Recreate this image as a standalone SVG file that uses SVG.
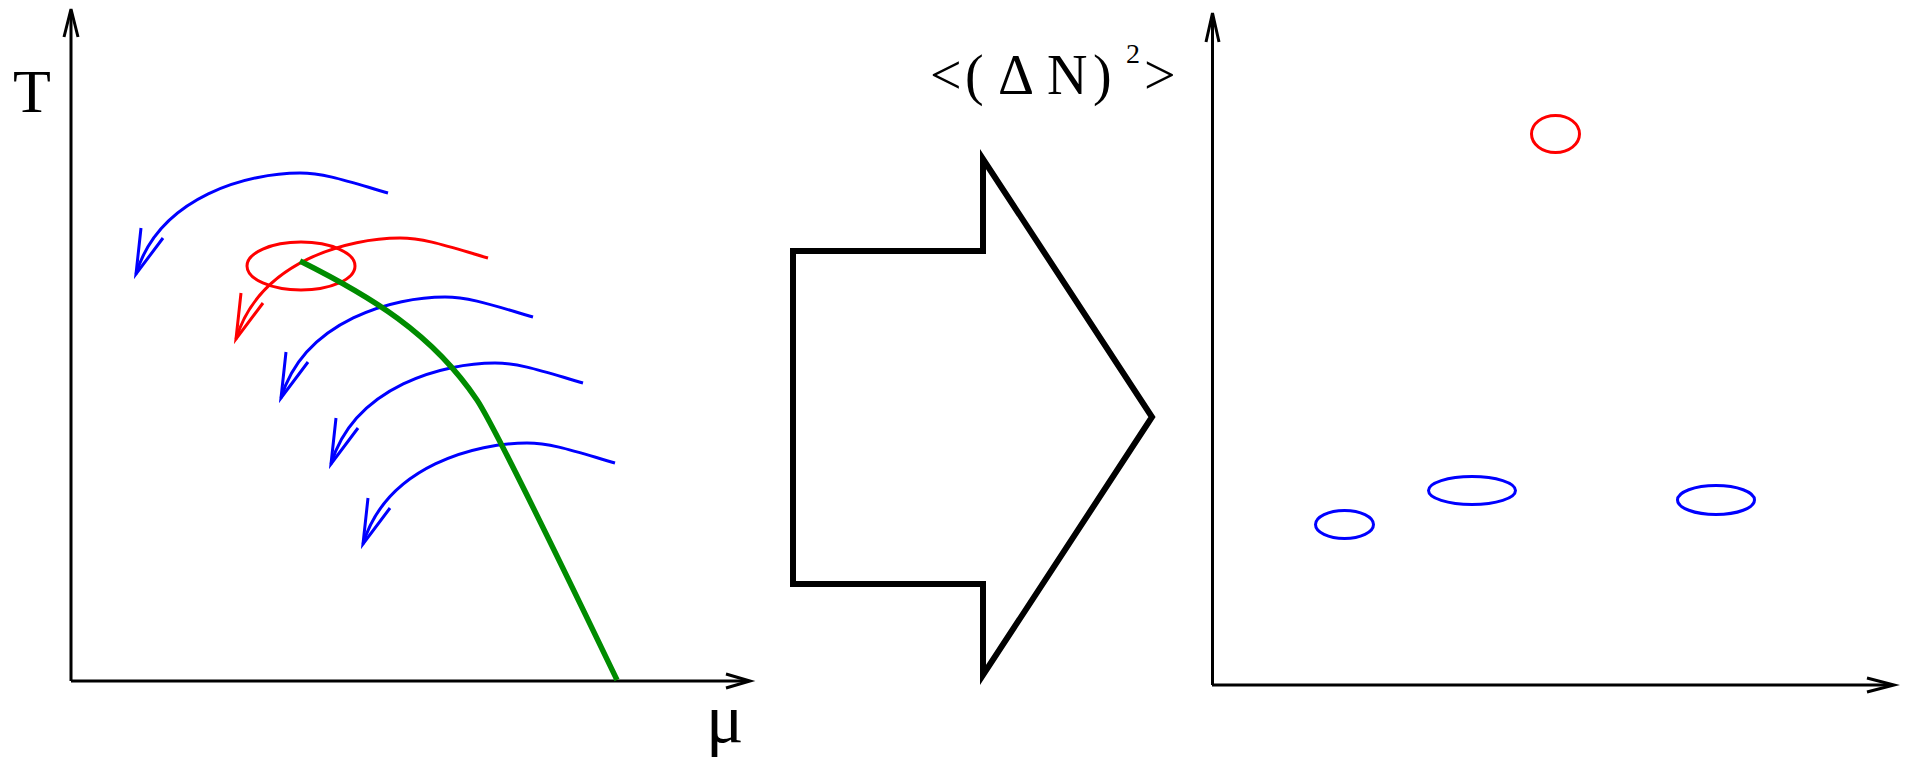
<svg xmlns="http://www.w3.org/2000/svg" xmlns:xlink="http://www.w3.org/1999/xlink" width="1905" height="757" viewBox="0 0 1905 757">
  <style>
    .axis { stroke: #000; stroke-width: 3; fill: none; }
    .head { stroke: #000; stroke-width: 3; fill: none; stroke-linejoin: miter; }
    .lbl { font-family: "Liberation Serif", "Times New Roman", serif; fill: #000; }
    .blue { stroke: #0000ff; }
    .red { stroke: #ff0000; }
    .flow { fill: none; stroke-width: 3; }
    .ell { fill: none; stroke-width: 3; }
  </style>
  <defs>
    <g id="arc" class="flow">
      <path d="M388,193 C350,182 325,173 300,173 C250,173 160,195 136,274"/>
      <polyline points="141,228 136,274 163,238"/>
    </g>
  </defs>
  <rect width="1905" height="757" fill="#fff"/>

  <g id="left-axes">
    <line class="axis" x1="71" y1="681" x2="71" y2="11"/>
    <polyline class="head" points="64,37 71,9 78,37"/>
    <line class="axis" x1="71" y1="681" x2="748" y2="681"/>
    <polyline class="head" points="726,674 750,681 726,688"/>
    <text class="lbl" x="13" y="112" font-size="62">T</text>
    <text class="lbl" x="706" y="742" font-size="70">μ</text>
  </g>

  <g id="flow-arrows">
    <use xlink:href="#arc" href="#arc" class="blue"/>
    <use xlink:href="#arc" href="#arc" class="red" transform="translate(100,65)"/>
    <use xlink:href="#arc" href="#arc" class="blue" transform="translate(145,124)"/>
    <use xlink:href="#arc" href="#arc" class="blue" transform="translate(195,190)"/>
    <use xlink:href="#arc" href="#arc" class="blue" transform="translate(227,270)"/>
  </g>

  <g id="critical-point">
    <ellipse class="ell red" cx="301" cy="266" rx="54" ry="24"/>
  </g>

  <g id="phase-boundary">
    <path d="M300,261 C370,296 432,333 477,400 C497,430 577,597 617,680" fill="none" stroke="#008c00" stroke-width="5.5"/>
  </g>

  <g id="big-arrow">
    <polygon points="793,251 983,251 983,159 1152,417 983,675 983,584 793,584" fill="none" stroke="#000" stroke-width="6"/>
  </g>

  <g id="right-axes">
    <line class="axis" x1="1212.5" y1="685" x2="1212.5" y2="15"/>
    <polyline class="head" points="1206,42 1212.5,13 1219,42"/>
    <line class="axis" x1="1212" y1="685" x2="1891" y2="685"/>
    <polyline class="head" points="1867,678 1894,685 1867,692"/>
    <text class="lbl" y="94" font-size="56"><tspan x="930">&lt;</tspan><tspan x="965">(</tspan><tspan x="998">Δ</tspan><tspan x="1047">N</tspan><tspan x="1093">)</tspan><tspan x="1126" y="63" font-size="28">2</tspan><tspan x="1144" y="94">&gt;</tspan></text>
  </g>

  <g id="fluct-red">
    <ellipse class="ell red" cx="1555.5" cy="134" rx="24" ry="18.5"/>
  </g>
  <g id="fluct-blue-1">
    <ellipse class="ell blue" cx="1344.5" cy="524.5" rx="29" ry="14"/>
  </g>
  <g id="fluct-blue-2">
    <ellipse class="ell blue" cx="1472" cy="490.5" rx="43.5" ry="14"/>
  </g>
  <g id="fluct-blue-3">
    <ellipse class="ell blue" cx="1716" cy="500" rx="38.5" ry="14.5"/>
  </g>
</svg>
